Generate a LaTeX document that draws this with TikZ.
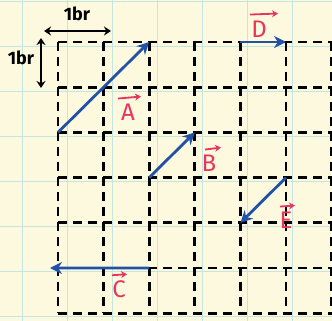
\documentclass[tikz,border=0pt]{standalone}
\usepackage{fontspec}
\setsansfont{Fira Sans}
\usetikzlibrary{arrows.meta}
\definecolor{paper}{HTML}{FCF9DE}
\definecolor{papergrid}{HTML}{C4E6DE}
\definecolor{vecblue}{HTML}{2152A6}
\definecolor{labred}{HTML}{E8355E}
\tikzset{
  gridline/.style={black, line width=2.7pt, dash pattern=on 9pt off 6pt},
  vec/.style={vecblue, line width=2.8pt, -{Stealth[length=12pt,width=12pt]}},
  vlabel/.style={labred, font=\sffamily\fontsize{24}{24}\selectfont, inner sep=0pt},
  overarrow/.style={labred, line width=1.8pt, -{Stealth[length=6pt,width=7pt]}},
  dimarrow/.style={black, line width=1.9pt, {Stealth[length=7pt,width=9pt]}-{Stealth[length=7pt,width=9pt]}},
  dimlabel/.style={black, font=\sffamily\bfseries\fontsize{18}{18}\selectfont, inner sep=0pt}
}
\begin{document}
\begin{tikzpicture}[x=1pt,y=-1pt]
\useasboundingbox (0,0) rectangle (332,321);
\fill[paper] (0,0) rectangle (332,321);
% paper grid
\foreach \xx in {22,67,112,157,202,247,292}
  \draw[papergrid, line width=0.9pt] (\xx,0) -- (\xx,321);
\foreach \yy in {1,46,91,136,181,226,271,316}
  \draw[papergrid, line width=0.9pt] (0,\yy) -- (332,\yy);
% grid point coordinates
\foreach \i in {0,...,6}
  \foreach \j in {0,...,6}
    \coordinate (g\i\j) at ({58+45.6*\i},{42+45.2*\j});
% dashed grid
\foreach \i in {0,...,6}
  \draw[gridline] (g\i0) -- (g\i6);
\foreach \j in {0,...,6}
  \draw[gridline] (g0\j) -- (g6\j);
% dimension marks
\coordinate (hl) at (44,31);
\coordinate (hr) at (111,31);
\draw[dimarrow] (hl) -- (hr);
\node[dimlabel] (hlab) at (77,14) {1br};
\coordinate (vt) at (41,38);
\coordinate (vb) at (41,88);
\draw[dimarrow] (vt) -- (vb);
\node[dimlabel] (vlab) at (21,58) {1br};
% vectors
\coordinate (Cend) at (50,268);
\draw[vec] (g02) -- (g20);
\draw[vec] (g23) -- (g32);
\draw[vec] (g40) -- (g50);
\draw[vec] (g53) -- (g44);
\draw[vec] (g25) -- (Cend);
% labels
\node[vlabel] (la) at (128,112) {A};
\draw[overarrow] ([xshift=-10pt,yshift=5pt]la.north) -- ([xshift=13pt,yshift=7pt]la.north);
\node[vlabel] (lb) at (209,163) {B};
\draw[overarrow] ([xshift=-4pt,yshift=5pt]lb.north) -- ([xshift=12pt,yshift=7pt]lb.north);
\node[vlabel] (ld) at (259,29) {D};
\draw[overarrow] ([xshift=-9pt,yshift=6pt]ld.north) -- ([xshift=19pt,yshift=7pt]ld.north);
\node[vlabel] (le) at (286,220) {E};
\draw[overarrow] ([xshift=-6pt,yshift=5pt]le.north) -- ([xshift=9pt,yshift=6pt]le.north);
\node[vlabel] (lc) at (119,289) {C};
\draw[overarrow] ([xshift=-7pt,yshift=5pt]lc.north) -- ([xshift=8pt,yshift=6pt]lc.north);
\end{tikzpicture}
\end{document}
